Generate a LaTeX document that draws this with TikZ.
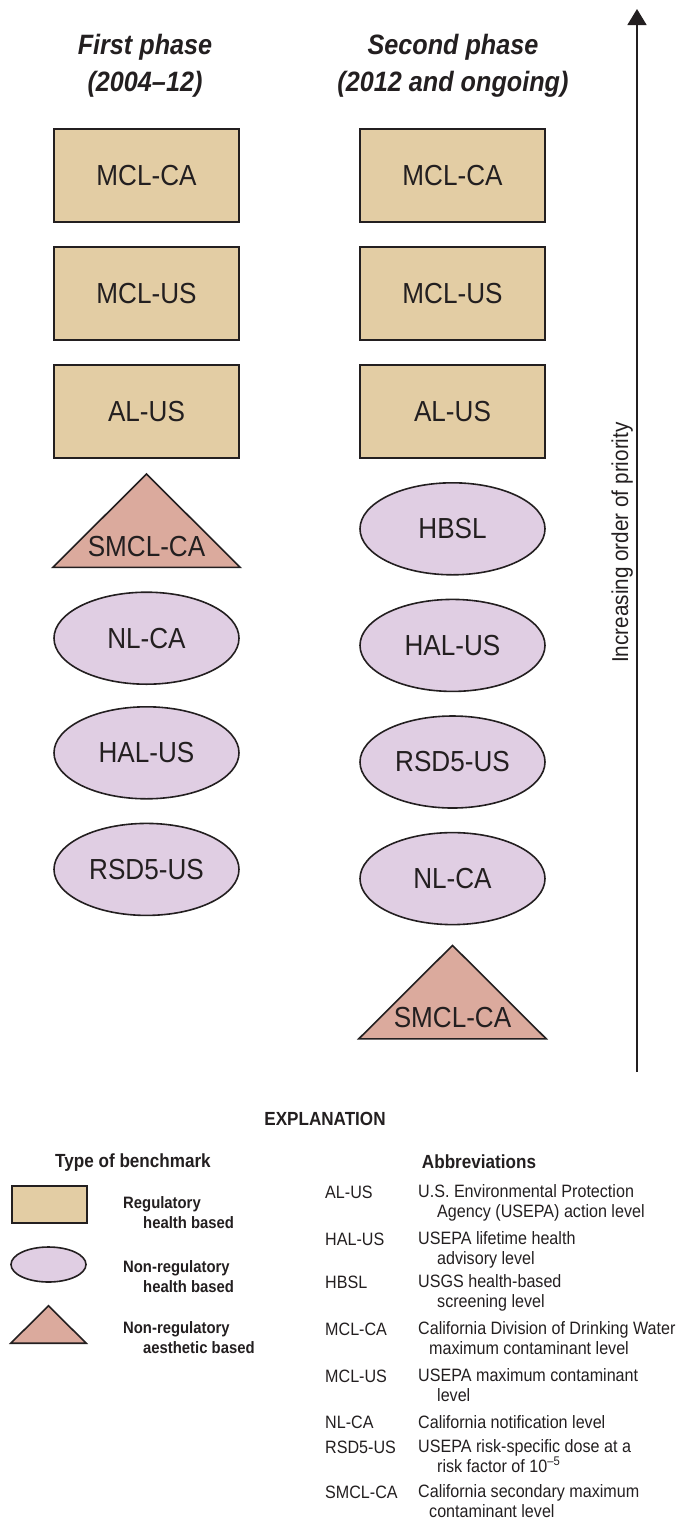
\documentclass[tikz,border=0pt]{standalone}
\usepackage{fontspec}
\setmainfont{Liberation Sans}[FakeStretch=0.9]
\usetikzlibrary{shapes,arrows.meta,positioning}
\definecolor{regcol}{HTML}{E3CDA4}
\definecolor{nonregcol}{HTML}{E0CEE3}
\definecolor{aescol}{HTML}{DBAA9D}
\definecolor{ink}{HTML}{231F20}
\def \gap {23pt}
\def \lblfont {\fontsize{29}{34}\selectfont}
\def \abfont {\fontsize{17.9}{19.5}\selectfont}

\begin{document}
\begin{tikzpicture}[x=1pt,y=-1pt,node distance=\gap,
    every node/.style={text=ink},
    reg/.style={draw=ink,line width=2pt,fill=regcol,minimum width=185pt,minimum height=93pt,inner sep=0pt,font=\lblfont},
    nonreg/.style={ellipse,draw=ink,line width=1.6pt,fill=nonregcol,minimum width=185pt,minimum height=92pt,inner sep=0pt,font=\lblfont},
    aes/.style={minimum width=187pt,minimum height=93pt,inner sep=0pt},
    aesfill/.style={draw=ink,line width=1.6pt,fill=aescol},
    phase/.style={font=\fontsize{28}{37}\selectfont\bfseries\itshape,align=center,anchor=north,inner sep=0pt},
    head/.style={font=\fontsize{19}{22}\selectfont\bfseries,anchor=base,inner sep=0pt},
    key/.style={font=\fontsize{16.5}{20}\selectfont\bfseries,align=left,anchor=base west,inner sep=0pt},
    abbr/.style={font=\abfont,anchor=base west,inner sep=0pt},
    desc/.style={font=\abfont,align=left,anchor=base west,inner sep=0pt}]
    \useasboundingbox (0,0) rectangle (678,1532);

    % phases
    \node[phase] (H1) at (145,34) {First phase\\(2004--12)};
    \node[phase] (H2) at (453,34) {Second phase\\(2012 and ongoing)};

    % first phase
    \node[reg] (A1) at (146.5,175.5) {MCL-CA};
    \node[reg,below=of A1] (A2) {MCL-US};
    \node[reg,below=of A2] (A3) {AL-US};
    \node[aes,below=15pt of A3] (A4) {};
    \draw[aesfill] (A4.south west) -- (A4.north) -- (A4.south east) -- cycle;
    \node[font=\lblfont,anchor=base] (A4t) at ([yshift=11pt]A4.south) {SMCL-CA};
    \node[nonreg,below=24pt of A4] (A5) {NL-CA};
    \node[nonreg,below=21pt of A5] (A6) {HAL-US};
    \node[nonreg,below=of A6] (A7) {RSD5-US};

    % second phase
    \node[reg] (B1) at (452.5,175.5) {MCL-CA};
    \node[reg,below=of B1] (B2) {MCL-US};
    \node[reg,below=of B2] (B3) {AL-US};
    \node[nonreg,below=of B3] (B4) {HBSL};
    \node[nonreg,below=of B4] (B5) {HAL-US};
    \node[nonreg,below=of B5] (B6) {RSD5-US};
    \node[nonreg,below=of B6] (B7) {NL-CA};
    \node[aes,below=20pt of B7] (B8) {};
    \draw[aesfill] (B8.south west) -- (B8.north) -- (B8.south east) -- cycle;
    \node[font=\lblfont,anchor=base] (B8t) at ([yshift=11pt]B8.south) {SMCL-CA};

    % priority arrow
    \coordinate (low) at (637,1072);
    \coordinate (high) at (637,9);
    \draw[ink,line width=1.6pt,-{Triangle[length=16pt,width=19pt]}] (low) -- (high);
    \node[rotate=90,anchor=base west,inner sep=0pt,font=\fontsize{23}{27}\selectfont] (prio) at (628,663) {Increasing order of priority};

    % explanation
    \node[head] (expl) at (325,1125) {EXPLANATION};
    \node[head] (type) at (133,1167) {Type of benchmark};
    \node[head] (abbr) at (479,1168) {Abbreviations};

    \node[draw=ink,line width=1.6pt,fill=regcol,minimum width=75pt,minimum height=37pt,inner sep=0pt] (K1) at (49.5,1204.5) {};
    \node[ellipse,draw=ink,line width=1.6pt,fill=nonregcol,minimum width=75pt,minimum height=35pt,inner sep=0pt] (K2) at (48.5,1264.5) {};
    \node[minimum width=75pt,minimum height=37pt,inner sep=0pt] (K3) at (48.5,1324.5) {};
    \draw[aesfill] (K3.south west) -- (K3.north) -- (K3.south east) -- cycle;
    \node[key] (K1t) at (123,1228) {Regulatory\\\hspace*{20pt}health based};
    \node[key] (K2t) at (123,1292) {Non-regulatory\\\hspace*{20pt}health based};
    \node[key] (K3t) at (123,1353) {Non-regulatory\\\hspace*{20pt}aesthetic based};

    \node[abbr] (ab1) at (325,1198) {AL-US};
    \node[desc] (de1) at (418,1217) {U.S. Environmental Protection\\\hspace*{19pt}Agency (USEPA) action level};
    \node[abbr] (ab2) at (325,1245) {HAL-US};
    \node[desc] (de2) at (418,1264) {USEPA lifetime health\\\hspace*{19pt}advisory level};
    \node[abbr] (ab3) at (325,1288) {HBSL};
    \node[desc] (de3) at (418,1307) {USGS health-based\\\hspace*{19pt}screening level};
    \node[abbr] (ab4) at (325,1335) {MCL-CA};
    \node[desc] (de4) at (418,1354) {California Division of Drinking Water\\\hspace*{11pt}maximum contaminant level};
    \node[abbr] (ab5) at (325,1382) {MCL-US};
    \node[desc] (de5) at (418,1401) {USEPA maximum contaminant\\\hspace*{19pt}level};
    \node[abbr] (ab6) at (325,1428) {NL-CA};
    \node[desc] (de6) at (418,1428) {California notification level};
    \node[abbr] (ab7) at (325,1453) {RSD5-US};
    \node[desc] (de7) at (418,1472) {USEPA risk-specific dose at a\\\hspace*{19pt}risk factor of 10\textsuperscript{--5}};
    \node[abbr] (ab8) at (325,1498) {SMCL-CA};
    \node[desc] (de8) at (418,1517) {California secondary maximum\\\hspace*{11pt}contaminant level};
\end{tikzpicture}
\end{document}
